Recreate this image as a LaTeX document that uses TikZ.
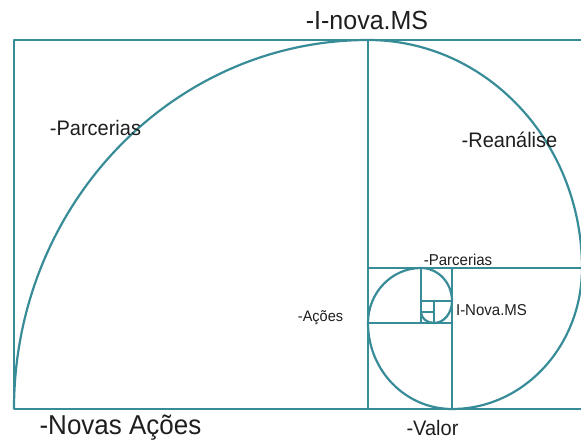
\documentclass[tikz,border=0pt]{standalone}
\usepackage{fontspec}
\setmainfont{Liberation Sans}
\usepackage{xcolor}
\usepackage{tikz}
\usetikzlibrary{positioning}
\definecolor{tealline}{RGB}{56,140,152}
\definecolor{labeltext}{RGB}{30,30,30}

\begin{document}
\begin{tikzpicture}[x=1pt,y=1pt,line join=round,
  golden/.style={draw=tealline,line width=2.2pt},
  label node/.style={text=labeltext,inner sep=0pt,yscale=1.05}]
  \useasboundingbox (0,0) rectangle (581,441);
  % squares
  \draw[golden] (14,32) rectangle (583,401);
  \draw[golden] (368,32) -- (368,401);
  \draw[golden] (368,173) -- (583,173);
  \draw[golden] (452,173) -- (452,32);
  \draw[golden] (368,118) -- (452,118);
  \draw[golden] (421,118) -- (421,173);
  \draw[golden] (421,140) -- (452,140);
  \draw[golden] (434,118) -- (434,140);
  \draw[golden] (421,129) -- (434,129);
  % spiral
  \draw[golden] (14,32) arc[start angle=180,end angle=90,x radius=354,y radius=369]
    arc[start angle=90,end angle=0,x radius=214,y radius=228]
    arc[start angle=0,end angle=-90,x radius=130,y radius=141]
    arc[start angle=-90,end angle=-180,x radius=84,y radius=86]
    arc[start angle=180,end angle=90,x radius=53,y radius=55]
    arc[start angle=90,end angle=0,x radius=31,y radius=33]
    arc[start angle=0,end angle=-90,x radius=18,y radius=22]
    arc[start angle=-90,end angle=-180,x radius=13,y radius=11];
  % labels
  \node[label node,font=\fontsize{25}{28}\selectfont] (inova) at (367,421) {-I-nova.MS};
  \node[label node,font=\fontsize{20}{22}\selectfont] (parc) at (95.5,313) {-Parcerias};
  \node[label node,font=\fontsize{20}{22}\selectfont] (rean) at (509.5,301) {-Reanálise};
  \node[label node,font=\fontsize{15}{17}\selectfont] (parcsmall) at (458,181) {-Parcerias};
  \node[label node,font=\fontsize{15}{17}\selectfont] (inovasmall) at (491.5,131) {I-Nova.MS};
  \node[label node,font=\fontsize{14.5}{16}\selectfont] (acoes) at (320.5,123) {-Ações};
  \node[label node,font=\fontsize{26}{28}\selectfont] (novas) at (120.5,13.5) {-Novas Ações};
  \node[label node,font=\fontsize{20}{22}\selectfont] (valor) at (432.5,13) {-Valor};
\end{tikzpicture}
\end{document}
